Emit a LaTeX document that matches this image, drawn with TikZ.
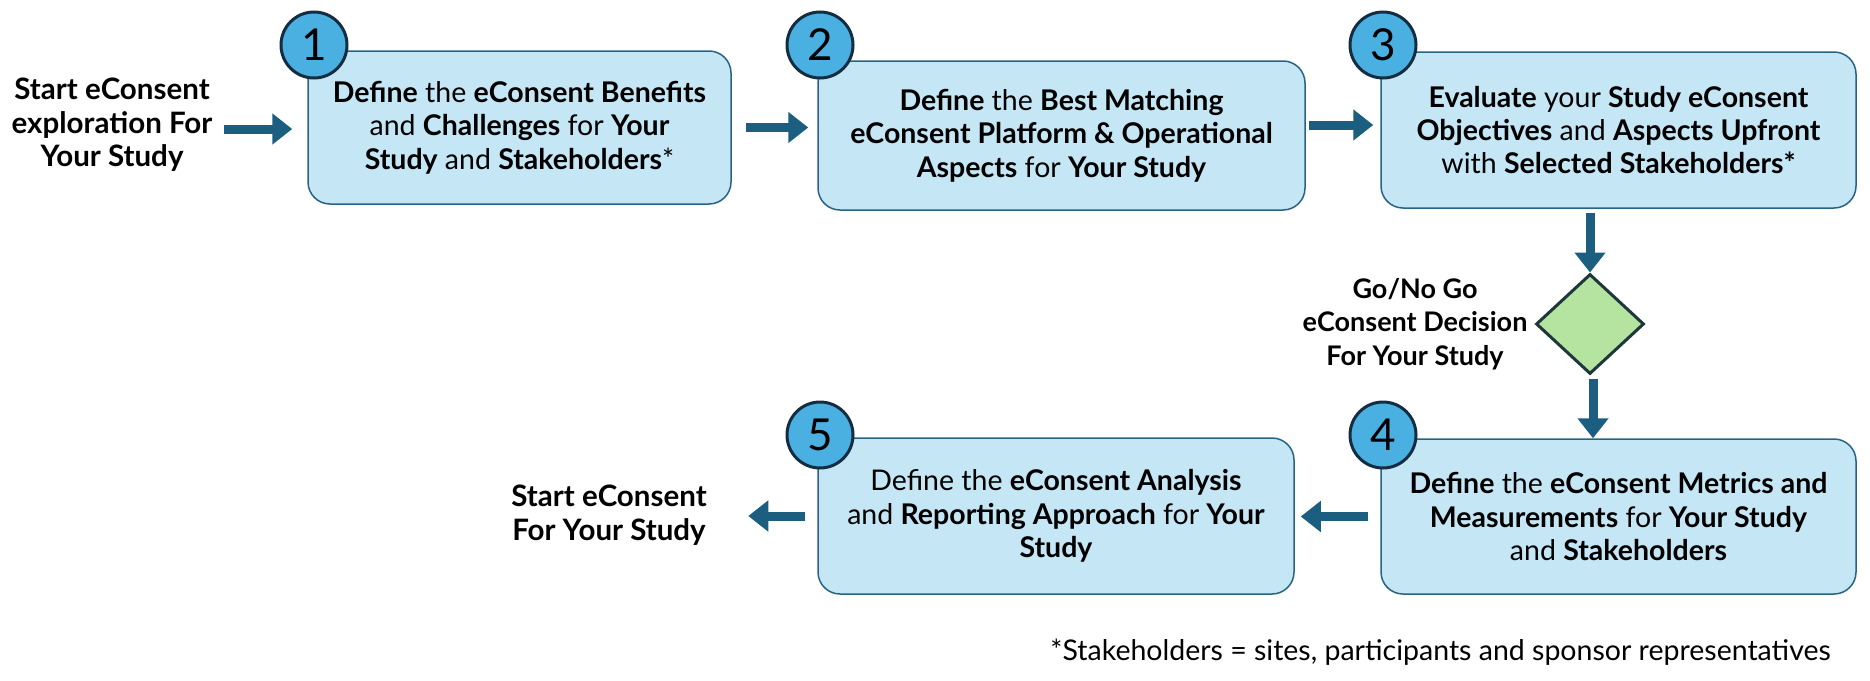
\documentclass[tikz,border=0pt]{standalone}
\usepackage{fontspec}
\setmainfont{Lato}
\usetikzlibrary{arrows.meta,shapes.geometric}
\definecolor{boxfill}{RGB}{197,230,245}
\definecolor{boxline}{RGB}{40,100,130}
\definecolor{arrowc}{RGB}{27,94,128}
\definecolor{circfill}{RGB}{74,176,226}
\definecolor{circline}{RGB}{20,45,65}
\definecolor{dfill}{RGB}{181,227,160}
\definecolor{dline}{RGB}{30,55,60}
\tikzset{
  stepbox/.style={draw=boxline, line width=1.5pt, fill=boxfill, rounded corners=22pt,
    align=center, inner sep=0pt, font=\fontsize{28.5}{33.4}\selectfont},
  numc/.style={circle, draw=circline, line width=3pt, fill=circfill, minimum size=66pt,
    inner sep=0pt, font=\fontsize{44}{44}\selectfont},
  sidelabel/.style={align=center, inner sep=0pt, font=\fontsize{29.5}{33.4}\selectfont\bfseries},
  flowarrow/.style={draw=arrowc, line width=9pt, -{Triangle[length=20pt,width=30pt]}},
  decision/.style={diamond, draw=dline, line width=3pt, fill=dfill, minimum width=108pt,
    minimum height=100pt, inner sep=0pt}
}
\begin{document}
\begin{tikzpicture}[x=1pt,y=-1pt]
\useasboundingbox (0,0) rectangle (1870,680);
% start label
\node[sidelabel] (s) at (112,125) {Start eConsent\\exploration For\\Your Study};
% boxes
\node[stepbox, minimum width=423pt, minimum height=153pt] (b1) at (519.5,127.5)
  {\textbf{Define} the \textbf{eConsent Benefits}\\and \textbf{Challenges} for \textbf{Your}\\\textbf{Study} and \textbf{Stakeholders}*};
\node[stepbox, minimum width=487pt, minimum height=149pt] (b2) at (1061.5,135.5)
  {\textbf{Define} the \textbf{Best Matching}\\\textbf{eConsent Platform \& Operational}\\\textbf{Aspects} for \textbf{Your Study}};
\node[stepbox, minimum width=475pt, minimum height=156pt] (b3) at (1618.5,130)
  {\textbf{Evaluate} your \textbf{Study eConsent}\\\textbf{Objectives} and \textbf{Aspects Upfront}\\with \textbf{Selected Stakeholders*}};
\node[decision] (d) at (1590,324) {};
\node[sidelabel, font=\fontsize{27}{33.4}\selectfont\bfseries] (dl) at (1415,324) {Go/No Go\\eConsent Decision\\For Your Study};
\node[stepbox, minimum width=475pt, minimum height=155pt] (b4) at (1618.5,516.5)
  {\textbf{Define} the \textbf{eConsent Metrics and}\\\textbf{Measurements} for \textbf{Your Study}\\and \textbf{Stakeholders}};
\node[stepbox, minimum width=476pt, minimum height=156pt] (b5) at (1056,516)
  {Define the \textbf{eConsent Analysis}\\and \textbf{Reporting Approach} for \textbf{Your}\\\textbf{Study}};
\node[sidelabel] (e) at (609,515) {Start eConsent\\For Your Study};
% number circles
\node[numc] (n1) at (314,45) {1};
\node[numc] (n2) at (820,45) {2};
\node[numc] (n3) at (1383,45) {3};
\node[numc] (n4) at (1383,435) {4};
\node[numc] (n5) at (820,435) {5};
% footnote
\node[anchor=east, inner sep=0pt, font=\fontsize{28.5}{33}\selectfont] (fn) at (1831,652)
  {*Stakeholders = sites, participants and sponsor representatives};
% connectors
\coordinate (a1) at (224,129);
\draw[flowarrow] (a1) -- ([xshift=-15pt]a1 -| b1.west);
\draw[flowarrow] ([xshift=14pt]b1.east) -- ([xshift=-9pt]b1.east -| b2.west);
\coordinate (a3) at (1309,125);
\draw[flowarrow] (a3) -- ([xshift=-7pt]a3 -| b3.west);
\draw[flowarrow] ([yshift=-4pt]d.north |- b3.south) -- (d.north);
\draw[flowarrow] ([yshift=-3pt,xshift=3pt]d.south) -- ([xshift=3pt]d.south |- b4.north);
\draw[flowarrow] ([xshift=-12pt]b4.west) -- ([xshift=6pt]b4.west -| b5.east);
\draw[flowarrow] ([xshift=-12pt]b5.west) -- ([xshift=-69pt]b5.west);
\end{tikzpicture}
\end{document}
